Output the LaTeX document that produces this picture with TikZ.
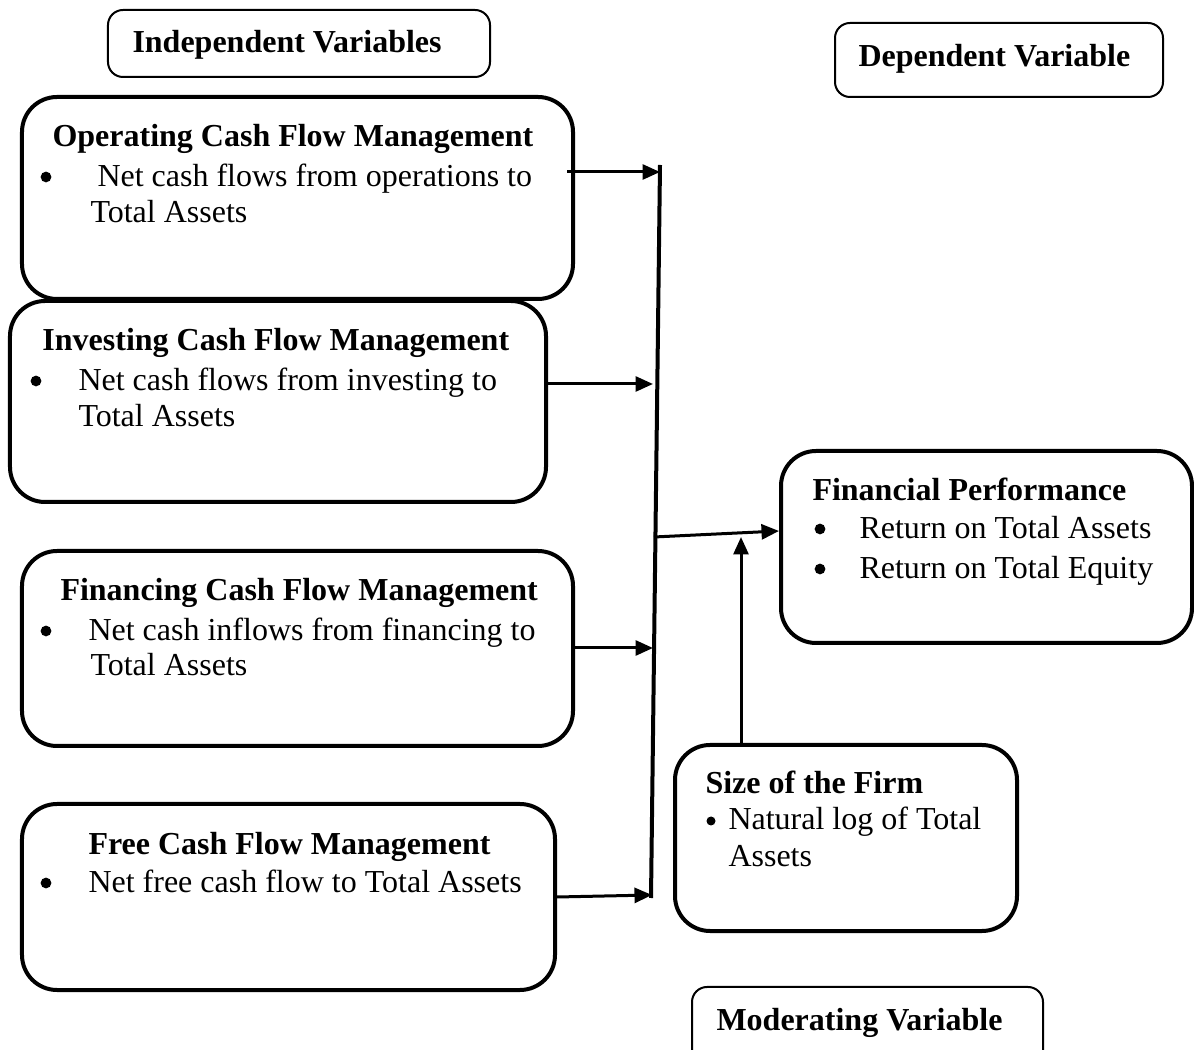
\documentclass[tikz,border=0pt]{standalone}
\usepackage{fontspec}
\setmainfont{Liberation Serif}
\usetikzlibrary{arrows.meta,calc}
\tikzset{
  bigbox/.style={draw, line width=1.6pt, rounded corners=14pt, inner sep=0pt},
  labbox/.style={draw, line width=0.8pt, rounded corners=6pt, inner sep=0pt},
  txt/.style={anchor=base west, inner sep=0pt, font=\fontsize{12.8}{14.4}\selectfont},
  ttl/.style={txt, font=\fontsize{12.8}{14.4}\selectfont\bfseries},
  bul/.style={circle, fill, inner sep=0pt, minimum size=4.3pt},
  sbul/.style={circle, fill, inner sep=0pt, minimum size=3.6pt},
  arr/.style={line width=1.2pt, -{Triangle[length=7pt,width=6pt]}},
  bus/.style={line width=1.6pt}
}
\begin{document}
\begin{tikzpicture}[x=0.4pt,y=-0.4pt]
\useasboundingbox (0,0) rectangle (1194,1050);
% label boxes
\node[labbox, minimum width=152.8pt, minimum height=26.8pt] (indep) at (299,43.5) {};
\node[labbox, minimum width=131.2pt, minimum height=29.6pt] (dep) at (999,60) {};
\node[labbox, minimum width=140.4pt, minimum height=35.2pt] (mod) at (867.5,1031) {};
\node[ttl] (indepT) at (132,53) {Independent Variables};
\node[ttl] (depT) at (858,67) {Dependent Variable};
\node[ttl] (modT) at (716,1030) {Moderating Variable};
% main boxes
\node[bigbox, minimum width=220.4pt, minimum height=80.8pt] (op) at (297.5,198) {};
\node[bigbox, minimum width=214.4pt, minimum height=80.4pt] (inv) at (278,401.5) {};
\node[bigbox, minimum width=220.4pt, minimum height=78pt] (fin) at (297.5,648.5) {};
\node[bigbox, minimum width=213.2pt, minimum height=74.4pt] (free) at (288.5,897) {};
\node[bigbox, minimum width=164.4pt, minimum height=76.8pt] (fp) at (986.5,547) {};
\node[bigbox, minimum width=136.8pt, minimum height=74.4pt] (size) at (846,838) {};
% operating
\node[ttl] (opT) at (52,147) {Operating Cash Flow Management};
\node[bul] (opB) at (46,177) {};
\node[txt] (opL1) at (97,187) {Net cash flows from operations to};
\node[txt] (opL2) at (90,223) {Total Assets};
% investing
\node[ttl] (invT) at (42,351) {Investing Cash Flow Management};
\node[bul] (invB) at (36,381) {};
\node[txt] (invL1) at (78,391) {Net cash flows from investing to};
\node[txt] (invL2) at (78,427) {Total Assets};
% financing
\node[ttl] (finT) at (60,601) {Financing Cash Flow Management};
\node[bul] (finB) at (46,631) {};
\node[txt] (finL1) at (88,641) {Net cash inflows from financing to};
\node[txt] (finL2) at (90,676) {Total Assets};
% free
\node[ttl] (freeT) at (88,855) {Free Cash Flow Management};
\node[bul] (freeB) at (46,883) {};
\node[txt] (freeL1) at (88,893) {Net free cash flow to Total Assets};
% financial performance
\node[ttl] (fpT) at (812,501) {Financial Performance};
\node[bul] (fpB1) at (820,529) {};
\node[txt] (fpL1) at (859,539) {Return on Total Assets};
\node[bul] (fpB2) at (820,569) {};
\node[txt] (fpL2) at (859,579) {Return on Total Equity};
% size
\node[ttl] (sizeT) at (705,794) {Size of the Firm};
\node[sbul] (sizeB) at (711,821) {};
\node[txt] (sizeL1) at (728,830) {Natural log of Total};
\node[txt] (sizeL2) at (728,867) {Assets};
% bus
\coordinate (btop) at (660,165);
\coordinate (bbot) at (651,898);
\draw[bus] (btop) -- (bbot);
\coordinate (t1) at (660,172);
\coordinate (t2) at (653,384);
\coordinate (t3) at (653,648);
\coordinate (t4) at (652,895);
\coordinate (m0) at (654,537);
\coordinate (up) at (741,537);
\draw[arr] ($(op.east|-t1)+(-8,0)$) -- (t1);
\draw[arr] (inv.east|-t2) -- (t2);
\draw[arr] (fin.east|-t3) -- (t3);
\draw[arr] ($(free.east|-t4)+(0,2)$) -- (t4);
\draw[arr] (m0) -- ($(fp.west)+(0,-16)$);
\draw[arr] (size.north-|up) -- (up);
\end{tikzpicture}
\end{document}
